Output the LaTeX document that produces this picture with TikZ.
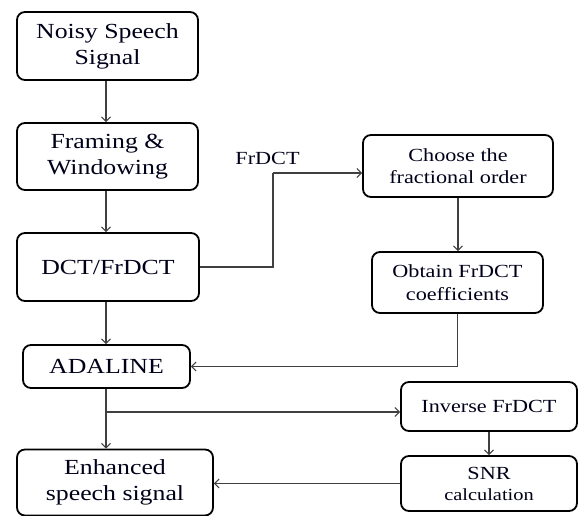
\documentclass[tikz,border=0pt]{standalone}
\usepackage{fontspec}
\setmainfont{Liberation Serif}[FakeStretch=1.2]
\usetikzlibrary{arrows.meta}
\begin{document}
\begin{tikzpicture}[x=1pt,y=-1pt,
  block/.style={draw=black, line width=1.8pt, rounded corners=8pt, align=center,
    inner sep=0pt, text=black!90!blue},
  bigtext/.style={font=\fontsize{21.5}{26}\selectfont},
  smalltext/.style={font=\fontsize{18.5}{22.5}\selectfont},
  link/.style={draw=black!75, line width=1.2pt,
    -{Straight Barb[length=4.5pt,width=9pt,line width=1pt]}},
  plain/.style={draw=black!75, line width=1.2pt}]
\useasboundingbox (0,0) rectangle (581,516);

% left column
\node[block,bigtext,minimum width=181pt,minimum height=68pt] (noisy) at (107.5,46) {Noisy Speech\\Signal};
\node[block,bigtext,minimum width=181pt,minimum height=67pt] (frame) at (107.5,156.5) {Framing \&\\Windowing};
\node[block,bigtext,minimum width=182pt,minimum height=68pt] (dct) at (108,267) {DCT/FrDCT};
\node[block,bigtext,minimum width=167pt,minimum height=43pt] (adaline) at (106.5,366.5) {ADALINE};
\node[block,bigtext,minimum width=196pt,minimum height=66pt] (enh) at (115,482.5) {Enhanced\\speech signal};

% right column
\node[block,smalltext,minimum width=190pt,minimum height=62pt] (choose) at (458,166) {Choose the\\fractional order};
\node[block,smalltext,minimum width=171pt,minimum height=61pt] (obtain) at (457.5,282.5) {Obtain FrDCT\\coefficients};
\node[block,smalltext,minimum width=176pt,minimum height=49pt] (inverse) at (489,406.5) {Inverse FrDCT};
\node[block,smalltext,minimum width=176pt,minimum height=55pt,
      font=\fontsize{18.5}{21}\selectfont] (snr) at (489,483.5) {SNR\\{\fontsize{17}{20}\selectfont calculation}};

% branch label
\node[smalltext,inner sep=0pt,text=black!90!blue] (frlabel) at (267.5,158) {FrDCT};

% helper points
\coordinate (col) at (106,0);
\coordinate (bend) at (273,173);
\coordinate (split) at (106,412);

% connectors
\draw[link] (noisy.south -| col) -- (frame.north -| col);
\draw[link] (frame.south -| col) -- (dct.north -| col);
\draw[link] (dct.south -| col) -- (adaline.north -| col);
\draw[link] (adaline.south -| col) -- (enh.north -| col);
\draw[plain] (dct.east) -| (bend);
\draw[link] (bend) -- (bend -| choose.west);
\draw[link] (choose.south) -- (choose.south |- obtain.north);
\draw[link] (obtain.south) |- (adaline.east);
\draw[link] (split) -- (split -| inverse.west);
\draw[link] (inverse.south) -- (snr.north);
\draw[link] (snr.west) -- (snr.west -| enh.east);
\end{tikzpicture}
\end{document}
